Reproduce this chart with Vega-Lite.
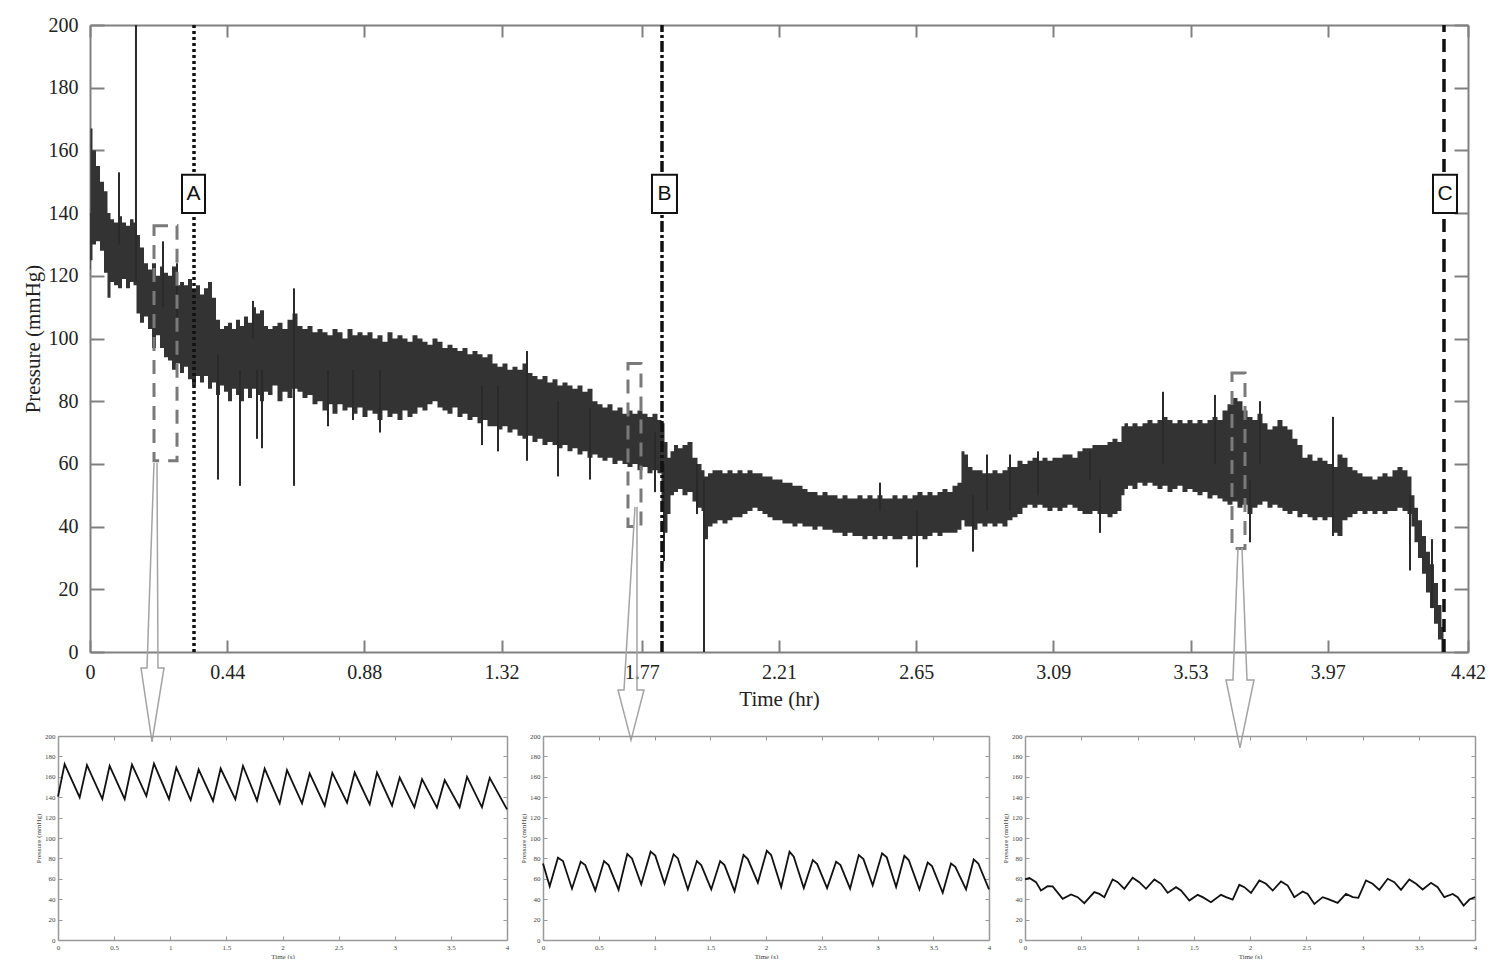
{
"$schema": "https://vega.github.io/schema/vega-lite/v6.json",
"background": "white",
"padding": {"left": 22, "top": 15, "right": 0, "bottom": 0},
"autosize": {"type": "pad"},
"config": {"view": {"stroke": null}, "axis": {"grid": false}},
"align": "none",
"bounds": "full",
"spacing": -19,
"datasets": {
"band": [
{"t":0,"lo":122,"hi":140},{"t":0.0032,"lo":125,"hi":167},{"t":0.0128,"lo":130,"hi":160},{"t":0.0257,"lo":131,"hi":155},{"t":0.0385,"lo":128,"hi":150},{"t":0.0513,"lo":121,"hi":147},{"t":0.0609,"lo":113,"hi":140},{"t":0.0706,"lo":118,"hi":138},{"t":0.0834,"lo":117,"hi":137},{"t":0.0962,"lo":116,"hi":139},{"t":0.1091,"lo":119,"hi":137},{"t":0.1219,"lo":116,"hi":136},{"t":0.1347,"lo":118,"hi":138},{"t":0.1443,"lo":117,"hi":137},{"t":0.154,"lo":108,"hi":133},{"t":0.1668,"lo":105,"hi":129},{"t":0.1796,"lo":107,"hi":124},{"t":0.1925,"lo":103,"hi":122},{"t":0.2053,"lo":97,"hi":124},{"t":0.2181,"lo":101,"hi":120},{"t":0.2309,"lo":97,"hi":123},{"t":0.2438,"lo":94,"hi":121},{"t":0.2566,"lo":93,"hi":120},{"t":0.2694,"lo":90,"hi":123},{"t":0.2823,"lo":92,"hi":117},{"t":0.2951,"lo":89,"hi":118},{"t":0.3079,"lo":91,"hi":117},{"t":0.3208,"lo":87,"hi":119},{"t":0.3336,"lo":85,"hi":116},{"t":0.3464,"lo":88,"hi":117},{"t":0.3592,"lo":86,"hi":114},{"t":0.3721,"lo":88,"hi":116},{"t":0.3849,"lo":84,"hi":118},{"t":0.3977,"lo":86,"hi":113},{"t":0.4106,"lo":82,"hi":106},{"t":0.4234,"lo":85,"hi":103},{"t":0.4362,"lo":83,"hi":104},{"t":0.4491,"lo":80,"hi":105},{"t":0.4619,"lo":84,"hi":103},{"t":0.4747,"lo":82,"hi":106},{"t":0.4875,"lo":80,"hi":104},{"t":0.5004,"lo":84,"hi":107},{"t":0.5132,"lo":81,"hi":105},{"t":0.526,"lo":84,"hi":110},{"t":0.5389,"lo":82,"hi":108},{"t":0.5517,"lo":80,"hi":109},{"t":0.5645,"lo":83,"hi":104},{"t":0.5774,"lo":82,"hi":103},
{"t":0.5934,"lo":85,"hi":104},{"t":0.6094,"lo":80,"hi":105},{"t":0.6255,"lo":83,"hi":103},{"t":0.6415,"lo":81,"hi":106},{"t":0.6575,"lo":84,"hi":108},{"t":0.6736,"lo":83,"hi":104},{"t":0.6896,"lo":81,"hi":103},{"t":0.7057,"lo":82,"hi":104},{"t":0.7217,"lo":79,"hi":102},{"t":0.7377,"lo":80,"hi":103},{"t":0.7538,"lo":77,"hi":102},{"t":0.7698,"lo":79,"hi":101},{"t":0.7858,"lo":76,"hi":103},{"t":0.8019,"lo":79,"hi":102},{"t":0.8179,"lo":77,"hi":100},{"t":0.834,"lo":78,"hi":103},{"t":0.85,"lo":76,"hi":101},{"t":0.866,"lo":78,"hi":102},{"t":0.8821,"lo":75,"hi":101},{"t":0.8981,"lo":77,"hi":102},{"t":0.9141,"lo":76,"hi":100},{"t":0.9302,"lo":74,"hi":101},{"t":0.9462,"lo":77,"hi":99},{"t":0.9623,"lo":75,"hi":102},{"t":0.9783,"lo":76,"hi":100},{"t":0.9943,"lo":74,"hi":101},{"t":1.0104,"lo":77,"hi":100},{"t":1.0264,"lo":75,"hi":99},{"t":1.0424,"lo":76,"hi":101},{"t":1.0585,"lo":78,"hi":100},{"t":1.0745,"lo":77,"hi":99},{"t":1.0906,"lo":79,"hi":98},{"t":1.1066,"lo":80,"hi":100},{"t":1.1226,"lo":78,"hi":99},{"t":1.1387,"lo":77,"hi":97},{"t":1.1547,"lo":76,"hi":98},{"t":1.1707,"lo":78,"hi":97},{"t":1.1868,"lo":75,"hi":96},{"t":1.2028,"lo":76,"hi":97},{"t":1.2189,"lo":74,"hi":95},{"t":1.2349,"lo":75,"hi":96},{"t":1.2509,"lo":73,"hi":95},{"t":1.267,"lo":74,"hi":94},{"t":1.283,"lo":72,"hi":95},{"t":1.299,"lo":72,"hi":92},{"t":1.3151,"lo":71,"hi":91},{"t":1.3311,"lo":72,"hi":92},{"t":1.3472,"lo":70,"hi":90},{"t":1.3632,"lo":71,"hi":91},{"t":1.3792,"lo":69,"hi":90},{"t":1.3953,"lo":68,"hi":92},{"t":1.4113,"lo":69,"hi":89},{"t":1.4273,"lo":67,"hi":88},{"t":1.4434,"lo":68,"hi":87},{"t":1.4594,"lo":66,"hi":88},{"t":1.4755,"lo":67,"hi":86},{"t":1.4915,"lo":66,"hi":87},{"t":1.5075,"lo":65,"hi":85},{"t":1.5236,"lo":66,"hi":86},{"t":1.5396,"lo":64,"hi":85},{"t":1.5556,"lo":65,"hi":84},{"t":1.5717,"lo":63,"hi":85},{"t":1.5877,"lo":64,"hi":83},{"t":1.6038,"lo":62,"hi":84},{"t":1.6198,"lo":63,"hi":80},{"t":1.6358,"lo":62,"hi":79},{"t":1.6519,"lo":61,"hi":78},{"t":1.6679,"lo":62,"hi":79},{"t":1.6839,"lo":60,"hi":77},{"t":1.7,"lo":61,"hi":78},{"t":1.716,"lo":60,"hi":76},{"t":1.7321,"lo":59,"hi":77},{"t":1.7481,"lo":60,"hi":76},{"t":1.7641,"lo":58,"hi":77},{"t":1.7802,"lo":59,"hi":76},{"t":1.7962,"lo":57,"hi":75},{"t":1.8122,"lo":58,"hi":76},{"t":1.8283,"lo":57,"hi":74},
{"t":1.8379,"lo":45,"hi":73},{"t":1.8475,"lo":38,"hi":67},{"t":1.8572,"lo":44,"hi":62},{"t":1.8668,"lo":50,"hi":64},{"t":1.8796,"lo":51,"hi":66},{"t":1.8924,"lo":52,"hi":65},{"t":1.9085,"lo":50,"hi":66},{"t":1.9245,"lo":51,"hi":67},{"t":1.9405,"lo":48,"hi":62},{"t":1.9566,"lo":46,"hi":60},{"t":1.9662,"lo":45,"hi":58},{"t":1.9758,"lo":36,"hi":56},{"t":1.9887,"lo":40,"hi":57},{"t":2.0047,"lo":41,"hi":58},{"t":2.0207,"lo":42,"hi":58},{"t":2.0368,"lo":41,"hi":57},{"t":2.0528,"lo":42,"hi":58},{"t":2.0688,"lo":43,"hi":57},{"t":2.0849,"lo":43,"hi":58},{"t":2.1009,"lo":44,"hi":57},{"t":2.117,"lo":45,"hi":58},{"t":2.133,"lo":46,"hi":57},{"t":2.149,"lo":45,"hi":57},{"t":2.1651,"lo":44,"hi":56},{"t":2.1811,"lo":43,"hi":56},{"t":2.1971,"lo":42,"hi":55},{"t":2.2132,"lo":42,"hi":55},{"t":2.2292,"lo":41,"hi":54},{"t":2.2453,"lo":41,"hi":54},{"t":2.2613,"lo":40,"hi":53},{"t":2.2773,"lo":41,"hi":53},{"t":2.2934,"lo":40,"hi":52},{"t":2.3094,"lo":40,"hi":51},{"t":2.3254,"lo":39,"hi":51},{"t":2.3415,"lo":40,"hi":50},{"t":2.3575,"lo":39,"hi":51},{"t":2.3736,"lo":39,"hi":50},{"t":2.3896,"lo":38,"hi":50},{"t":2.4056,"lo":38,"hi":49},{"t":2.4217,"lo":37,"hi":50},{"t":2.4377,"lo":38,"hi":49},{"t":2.4537,"lo":37,"hi":49},{"t":2.4698,"lo":37,"hi":50},{"t":2.4858,"lo":36,"hi":49},{"t":2.5019,"lo":37,"hi":50},{"t":2.5179,"lo":36,"hi":49},{"t":2.5339,"lo":37,"hi":50},{"t":2.55,"lo":36,"hi":49},{"t":2.566,"lo":37,"hi":49},{"t":2.582,"lo":36,"hi":50},{"t":2.5981,"lo":36,"hi":49},{"t":2.6141,"lo":37,"hi":50},{"t":2.6302,"lo":36,"hi":49},{"t":2.6462,"lo":37,"hi":50},{"t":2.6622,"lo":37,"hi":51},{"t":2.6783,"lo":36,"hi":50},{"t":2.6943,"lo":37,"hi":51},{"t":2.7103,"lo":38,"hi":50},{"t":2.7264,"lo":37,"hi":51},{"t":2.7424,"lo":38,"hi":52},{"t":2.7585,"lo":38,"hi":51},{"t":2.7745,"lo":38,"hi":53},{"t":2.7905,"lo":39,"hi":54},
{"t":2.8001,"lo":42,"hi":64},{"t":2.8098,"lo":40,"hi":63},{"t":2.8226,"lo":40,"hi":59},{"t":2.8386,"lo":39,"hi":58},{"t":2.8547,"lo":41,"hi":58},{"t":2.8707,"lo":40,"hi":57},{"t":2.8868,"lo":41,"hi":57},{"t":2.9028,"lo":40,"hi":58},{"t":2.9188,"lo":41,"hi":57},{"t":2.9349,"lo":40,"hi":58},{"t":2.9509,"lo":42,"hi":59},{"t":2.9669,"lo":43,"hi":59},{"t":2.983,"lo":44,"hi":61},{"t":2.999,"lo":46,"hi":60},{"t":3.0151,"lo":47,"hi":61},{"t":3.0311,"lo":46,"hi":62},{"t":3.0471,"lo":47,"hi":61},{"t":3.0632,"lo":46,"hi":62},{"t":3.0792,"lo":45,"hi":61},{"t":3.0952,"lo":46,"hi":62},{"t":3.1113,"lo":45,"hi":62},{"t":3.1273,"lo":46,"hi":63},{"t":3.1434,"lo":47,"hi":63},{"t":3.1594,"lo":46,"hi":62},{"t":3.1754,"lo":45,"hi":64},{"t":3.1915,"lo":44,"hi":65},{"t":3.2075,"lo":44,"hi":65},{"t":3.2235,"lo":45,"hi":66},{"t":3.2396,"lo":44,"hi":66},{"t":3.2556,"lo":44,"hi":66},{"t":3.2717,"lo":43,"hi":67},{"t":3.2877,"lo":44,"hi":68},{"t":3.3037,"lo":45,"hi":67},
{"t":3.3133,"lo":50,"hi":72},{"t":3.323,"lo":52,"hi":73},{"t":3.3358,"lo":53,"hi":72},{"t":3.3518,"lo":52,"hi":73},{"t":3.3679,"lo":54,"hi":72},{"t":3.3839,"lo":53,"hi":73},{"t":3.3999,"lo":54,"hi":74},{"t":3.416,"lo":53,"hi":73},{"t":3.432,"lo":52,"hi":74},{"t":3.4481,"lo":53,"hi":75},{"t":3.4641,"lo":51,"hi":74},{"t":3.4801,"lo":52,"hi":73},{"t":3.4962,"lo":53,"hi":74},{"t":3.5122,"lo":51,"hi":73},{"t":3.5283,"lo":52,"hi":74},{"t":3.5443,"lo":51,"hi":73},{"t":3.5603,"lo":50,"hi":74},{"t":3.5764,"lo":51,"hi":73},{"t":3.5924,"lo":49,"hi":74},{"t":3.6084,"lo":50,"hi":75},{"t":3.6245,"lo":49,"hi":74},{"t":3.6405,"lo":48,"hi":77},{"t":3.6566,"lo":47,"hi":79},{"t":3.6726,"lo":48,"hi":81},{"t":3.6886,"lo":46,"hi":80},{"t":3.7047,"lo":47,"hi":77},{"t":3.7207,"lo":44,"hi":75},{"t":3.7367,"lo":46,"hi":74},{"t":3.7528,"lo":47,"hi":76},{"t":3.7688,"lo":48,"hi":73},{"t":3.7849,"lo":46,"hi":71},{"t":3.8009,"lo":47,"hi":72},{"t":3.8169,"lo":46,"hi":74},{"t":3.833,"lo":45,"hi":72},{"t":3.849,"lo":44,"hi":71},{"t":3.865,"lo":45,"hi":68},{"t":3.8811,"lo":43,"hi":66},{"t":3.8971,"lo":44,"hi":62},{"t":3.9132,"lo":43,"hi":63},{"t":3.9292,"lo":42,"hi":61},{"t":3.9452,"lo":43,"hi":62},{"t":3.9613,"lo":42,"hi":61},{"t":3.9773,"lo":43,"hi":60},{"t":3.9933,"lo":38,"hi":59},{"t":4.0094,"lo":37,"hi":63},{"t":4.0254,"lo":42,"hi":62},{"t":4.0415,"lo":43,"hi":59},{"t":4.0575,"lo":44,"hi":58},{"t":4.0735,"lo":45,"hi":57},{"t":4.0896,"lo":44,"hi":56},{"t":4.1056,"lo":45,"hi":56},{"t":4.1216,"lo":44,"hi":55},{"t":4.1377,"lo":45,"hi":56},{"t":4.1537,"lo":44,"hi":57},{"t":4.1698,"lo":45,"hi":56},{"t":4.1858,"lo":45,"hi":58},{"t":4.2018,"lo":46,"hi":59},{"t":4.2179,"lo":45,"hi":58},{"t":4.2339,"lo":44,"hi":56},{"t":4.2435,"lo":40,"hi":50},{"t":4.2531,"lo":35,"hi":46},{"t":4.266,"lo":30,"hi":42},{"t":4.2788,"lo":25,"hi":37},{"t":4.2916,"lo":19,"hi":32},{"t":4.3045,"lo":14,"hi":28},{"t":4.3173,"lo":9,"hi":22},{"t":4.3301,"lo":4,"hi":15},{"t":4.3397,"lo":0,"hi":8},{"t":4.343,"lo":0,"hi":3}
],
"spikes": [
{"t":0.093,"v1":130,"v2":153},{"t":0.1475,"v1":118,"v2":200},{"t":0.2341,"v1":110,"v2":131},{"t":0.2791,"v1":105,"v2":124},{"t":0.4106,"v1":55,"v2":95},{"t":0.4811,"v1":53,"v2":90},{"t":0.5228,"v1":100,"v2":112},{"t":0.5357,"v1":68,"v2":90},{"t":0.5517,"v1":65,"v2":90},{"t":0.6543,"v1":53,"v2":116},{"t":0.7634,"v1":72,"v2":90},{"t":0.8436,"v1":74,"v2":90},{"t":0.9302,"v1":70,"v2":90},{"t":1.2573,"v1":66,"v2":85},{"t":1.3087,"v1":64,"v2":85},{"t":1.4017,"v1":61,"v2":96},{"t":1.5011,"v1":56,"v2":80},{"t":1.6038,"v1":55,"v2":78},{"t":1.8122,"v1":51,"v2":70},{"t":1.8411,"v1":29,"v2":60},{"t":1.947,"v1":44,"v2":60},{"t":1.9694,"v1":0,"v2":55},{"t":2.5339,"v1":45,"v2":54},{"t":2.6526,"v1":27,"v2":45},{"t":2.8322,"v1":32,"v2":50},{"t":2.8771,"v1":45,"v2":63},{"t":2.9509,"v1":45,"v2":63},{"t":3.0407,"v1":50,"v2":64},{"t":3.2075,"v1":55,"v2":64},{"t":3.2396,"v1":38,"v2":55},{"t":3.4417,"v1":60,"v2":83},{"t":3.6084,"v1":60,"v2":82},{"t":3.7207,"v1":35,"v2":55},{"t":3.7528,"v1":60,"v2":80},{"t":3.9869,"v1":37,"v2":75},{"t":4.2339,"v1":26,"v2":50},{"t":4.3045,"v1":14,"v2":36}
],
"events": [
{"label":"A","t":0.3336,"y0":0,"y1":200},{"label":"B","t":1.8347,"y0":0,"y1":200},{"label":"C","t":4.343,"y0":0,"y1":200}
],
"labelboxes": [
{"label":"A","t1":0.2951,"t2":0.3689,"v1":140,"v2":152.2,"tm":0.332,"vm":146.1},
{"label":"B","t1":1.8026,"t2":1.8828,"v1":140,"v2":152.2,"tm":1.8427,"vm":146.1},
{"label":"C","t1":4.3077,"t2":4.3847,"v1":140,"v2":152.2,"tm":4.3462,"vm":146.1}
],
"zoomboxes": [
{"t1":0.2053,"t2":0.2791,"v1":61,"v2":136},{"t1":1.7256,"t2":1.7673,"v1":40,"v2":92},{"t1":3.663,"t2":3.7047,"v1":33,"v2":89}
],
"arrows": [
{"id":1,"k":0,"t":0.2053,"v":60.3},{"id":1,"k":1,"t":0.1828,"v":-5.1},{"id":1,"k":2,"t":0.1636,"v":-5.1},{"id":1,"k":3,"t":0.1989,"v":-28.7},{"id":1,"k":4,"t":0.2374,"v":-5.1},{"id":1,"k":5,"t":0.2181,"v":-5.1},{"id":1,"k":6,"t":0.2149,"v":60.3},
{"id":2,"k":0,"t":1.7481,"v":46.3},{"id":2,"k":1,"t":1.7128,"v":-12.1},{"id":2,"k":2,"t":1.6936,"v":-12.1},{"id":2,"k":3,"t":1.7353,"v":-28.1},{"id":2,"k":4,"t":1.777,"v":-12.1},{"id":2,"k":5,"t":1.7545,"v":-12.1},{"id":2,"k":6,"t":1.7545,"v":46.3},
{"id":3,"k":0,"t":3.6822,"v":33.2},{"id":3,"k":1,"t":3.6662,"v":-8.9},{"id":3,"k":2,"t":3.6437,"v":-8.9},{"id":3,"k":3,"t":3.6886,"v":-30.6},{"id":3,"k":4,"t":3.7335,"v":-8.9},{"id":3,"k":5,"t":3.7111,"v":-8.9},{"id":3,"k":6,"t":3.695,"v":33.2}
],
"p1": [
{"t":0,"v":140.5},{"t":0.059,"v":172.4},{"t":0.193,"v":139.8},{"t":0.258,"v":171.4},{"t":0.395,"v":138.2},{"t":0.46,"v":170.7},{"t":0.594,"v":138.2},{"t":0.659,"v":172.0},{"t":0.787,"v":141.1},{"t":0.855,"v":173.0},{"t":0.989,"v":138.2},{"t":1.054,"v":169.1},{"t":1.182,"v":137.2},{"t":1.253,"v":167.2},{"t":1.381,"v":136.3},{"t":1.449,"v":168.1},{"t":1.58,"v":137.9},{"t":1.648,"v":170.7},{"t":1.773,"v":136.6},{"t":1.841,"v":168.1},{"t":1.975,"v":134.0},{"t":2.04,"v":166.5},{"t":2.174,"v":134.0},{"t":2.242,"v":163.3},{"t":2.376,"v":131.7},{"t":2.444,"v":163.9},{"t":2.575,"v":134.6},{"t":2.643,"v":164.2},{"t":2.777,"v":133.0},{"t":2.842,"v":164.2},{"t":2.976,"v":131.7},{"t":3.044,"v":159.3},{"t":3.175,"v":130.1},{"t":3.243,"v":157.7},{"t":3.376,"v":129.8},{"t":3.445,"v":156.7},{"t":3.578,"v":130.1},{"t":3.644,"v":160.0},{"t":3.777,"v":130.1},{"t":3.846,"v":159.0},{"t":4.0,"v":128.1}
],
"p2": [
{"t":0,"v":75.0},{"t":0.06,"v":52.6},{"t":0.134,"v":80.7},{"t":0.179,"v":77.4},{"t":0.26,"v":50.3},{"t":0.338,"v":76.7},{"t":0.379,"v":73.4},{"t":0.469,"v":48.6},{"t":0.547,"v":77.4},{"t":0.588,"v":73.4},{"t":0.678,"v":49.3},{"t":0.756,"v":84.3},{"t":0.798,"v":80.0},{"t":0.881,"v":54.5},{"t":0.965,"v":86.6},{"t":1.007,"v":82.7},{"t":1.09,"v":55.2},{"t":1.171,"v":84.0},{"t":1.21,"v":80.0},{"t":1.299,"v":49.6},{"t":1.38,"v":77.4},{"t":1.419,"v":73.4},{"t":1.509,"v":49.6},{"t":1.589,"v":77.4},{"t":1.628,"v":73.4},{"t":1.718,"v":47.9},{"t":1.798,"v":83.3},{"t":1.837,"v":79.3},{"t":1.927,"v":56.2},{"t":2.007,"v":87.6},{"t":2.046,"v":83.3},{"t":2.136,"v":51.9},{"t":2.211,"v":86.6},{"t":2.249,"v":81.7},{"t":2.339,"v":50.9},{"t":2.42,"v":78.4},{"t":2.459,"v":74.4},{"t":2.548,"v":50.9},{"t":2.629,"v":76.7},{"t":2.668,"v":73.4},{"t":2.754,"v":50.3},{"t":2.832,"v":83.3},{"t":2.874,"v":79.3},{"t":2.957,"v":53.6},{"t":3.041,"v":85.0},{"t":3.083,"v":81.0},{"t":3.167,"v":51.9},{"t":3.241,"v":82.6},{"t":3.28,"v":78.4},{"t":3.376,"v":49.6},{"t":3.45,"v":76.0},{"t":3.489,"v":72.4},{"t":3.585,"v":46.3},{"t":3.659,"v":75.0},{"t":3.698,"v":71.7},{"t":3.794,"v":49.6},{"t":3.863,"v":79.0},{"t":3.904,"v":75.0},{"t":4.0,"v":49.6}
],
"p3": [
{"t":0,"v":59.4},{"t":0.039,"v":60.7},{"t":0.098,"v":56.7},{"t":0.142,"v":48.5},{"t":0.201,"v":52.8},{"t":0.246,"v":52.5},{"t":0.335,"v":40.3},{"t":0.409,"v":44.6},{"t":0.468,"v":42.0},{"t":0.527,"v":36.1},{"t":0.616,"v":46.9},{"t":0.661,"v":45.2},{"t":0.705,"v":42.0},{"t":0.779,"v":59.4},{"t":0.824,"v":56.7},{"t":0.883,"v":50.2},{"t":0.957,"v":61.0},{"t":1.016,"v":56.7},{"t":1.076,"v":50.2},{"t":1.15,"v":59.4},{"t":1.209,"v":55.1},{"t":1.268,"v":46.2},{"t":1.342,"v":51.8},{"t":1.387,"v":48.5},{"t":1.461,"v":38.7},{"t":1.535,"v":44.3},{"t":1.579,"v":42.0},{"t":1.653,"v":37.1},{"t":1.742,"v":44.3},{"t":1.787,"v":42.0},{"t":1.846,"v":39.7},{"t":1.905,"v":54.1},{"t":1.95,"v":51.8},{"t":2.009,"v":46.2},{"t":2.083,"v":58.4},{"t":2.142,"v":55.1},{"t":2.202,"v":48.5},{"t":2.276,"v":57.4},{"t":2.335,"v":53.4},{"t":2.394,"v":42.0},{"t":2.468,"v":47.5},{"t":2.513,"v":45.2},{"t":2.572,"v":35.4},{"t":2.646,"v":42.0},{"t":2.69,"v":40.3},{"t":2.779,"v":36.4},{"t":2.853,"v":45.2},{"t":2.913,"v":42.0},{"t":2.963,"v":41.3},{"t":3.031,"v":58.4},{"t":3.09,"v":55.1},{"t":3.15,"v":49.2},{"t":3.224,"v":60.0},{"t":3.283,"v":56.7},{"t":3.342,"v":49.2},{"t":3.416,"v":59.4},{"t":3.476,"v":55.1},{"t":3.535,"v":49.5},{"t":3.609,"v":56.1},{"t":3.668,"v":51.8},{"t":3.727,"v":42.0},{"t":3.802,"v":45.2},{"t":3.846,"v":42.0},{"t":3.899,"v":33.8},{"t":3.95,"v":39.7},{"t":4.0,"v":42.0}
]
},
"vconcat": [
{
"width": 1410, "height": 627,
"layer": [
{"data": {"name": "band"},
 "mark": {"type": "area", "interpolate": "step", "color": "#333333"},
 "encoding": {
  "x": {"field": "t", "type": "quantitative", "scale": {"domain": [0, 4.42], "range": [32, 1410], "nice": false, "zero": false},
   "axis": {"orient": "bottom", "values": [0, 0.44, 0.88, 1.32, 1.77, 2.21, 2.65, 3.09, 3.53, 3.97, 4.42],
    "labelExpr": "datum.value == 0 ? '0' : format(datum.value, '.2f')",
    "title": "Time (hr)", "titleFont": "Liberation Serif", "titleFontSize": 21, "titleFontWeight": "normal", "titleColor": "#222", "titlePadding": 6,
    "labelFont": "Liberation Serif", "labelFontSize": 20, "labelColor": "#222", "labelPadding": 22, "labelFlush": false, "labelOverlap": false, "labelBound": false,
    "tickSize": -12, "tickWidth": 2, "tickColor": "#808080", "domainColor": "#808080", "domainWidth": 2, "grid": false}},
  "y": {"field": "lo", "type": "quantitative", "scale": {"domain": [0, 200], "nice": false},
   "axis": {"orient": "left", "offset": -32, "values": [0, 20, 40, 60, 80, 100, 120, 140, 160, 180, 200],
    "title": "Pressure (mmHg)", "titleFont": "Liberation Serif", "titleFontSize": 21, "titleFontWeight": "normal", "titleColor": "#222", "titlePadding": 5,
    "labelFont": "Liberation Serif", "labelFontSize": 20, "labelColor": "#222", "labelPadding": 26, "labelOverlap": false,
    "tickSize": -14, "tickWidth": 2, "tickColor": "#808080", "domainColor": "#808080", "domainWidth": 2, "grid": false}},
  "y2": {"field": "hi"}
 }},
{"data": {"name": "spikes"},
 "mark": {"type": "rule", "color": "#2a2a2a", "strokeWidth": 2},
 "encoding": {
  "x": {"field": "t", "type": "quantitative", "scale": {"domain": [0, 4.42], "range": [32, 1410], "nice": false, "zero": false},
   "axis": {"orient": "top", "values": [0, 0.44, 0.88, 1.32, 1.77, 2.21, 2.65, 3.09, 3.53, 3.97, 4.42], "labels": false, "title": null,
    "tickSize": -12, "tickWidth": 2, "tickColor": "#808080", "domainColor": "#808080", "domainWidth": 2, "grid": false}},
  "y": {"field": "v1", "type": "quantitative", "scale": {"domain": [0, 200], "nice": false},
   "axis": {"orient": "right", "values": [0, 20, 40, 60, 80, 100, 120, 140, 160, 180, 200], "labels": false, "title": null,
    "tickSize": -14, "tickWidth": 2, "tickColor": "#808080", "domainColor": "#808080", "domainWidth": 2, "grid": false}},
  "y2": {"field": "v2"}
 }},
{"data": {"name": "zoomboxes"},
 "mark": {"type": "rect", "fillOpacity": 0, "stroke": "#7a7a7a", "strokeWidth": 3, "strokeDash": [14, 9]},
 "encoding": {
  "x": {"field": "t1", "type": "quantitative", "scale": {"domain": [0, 4.42], "range": [32, 1410], "nice": false, "zero": false}, "axis": null},
  "x2": {"field": "t2"},
  "y": {"field": "v1", "type": "quantitative", "scale": {"domain": [0, 200], "nice": false}, "axis": null},
  "y2": {"field": "v2"}
 }},
{"data": {"name": "events"},
 "mark": {"type": "rule", "color": "#111111", "strokeWidth": 3.5},
 "encoding": {
  "x": {"field": "t", "type": "quantitative", "scale": {"domain": [0, 4.42], "range": [32, 1410], "nice": false, "zero": false}, "axis": null},
  "y": {"field": "y0", "type": "quantitative", "scale": {"domain": [0, 200], "nice": false}, "axis": null},
  "y2": {"field": "y1"},
  "strokeDash": {"field": "label", "type": "nominal", "scale": {"domain": ["A", "B", "C"], "range": [[3, 3], [11, 3, 3, 3], [13, 7]]}, "legend": null}
 }},
{"data": {"name": "labelboxes"},
 "mark": {"type": "rect", "fill": "white", "stroke": "#111111", "strokeWidth": 2},
 "encoding": {
  "x": {"field": "t1", "type": "quantitative", "scale": {"domain": [0, 4.42], "range": [32, 1410], "nice": false, "zero": false}, "axis": null},
  "x2": {"field": "t2"},
  "y": {"field": "v1", "type": "quantitative", "scale": {"domain": [0, 200], "nice": false}, "axis": null},
  "y2": {"field": "v2"}
 }},
{"data": {"name": "labelboxes"},
 "mark": {"type": "text", "font": "Liberation Sans", "fontSize": 21, "color": "#111111", "baseline": "middle", "align": "center"},
 "encoding": {
  "x": {"field": "tm", "type": "quantitative", "scale": {"domain": [0, 4.42], "range": [32, 1410], "nice": false, "zero": false}, "axis": null},
  "y": {"field": "vm", "type": "quantitative", "scale": {"domain": [0, 200], "nice": false}, "axis": null},
  "text": {"field": "label"}
 }},
{"data": {"name": "arrows"},
 "mark": {"type": "line", "color": "#a3a3a3", "strokeWidth": 1.5},
 "encoding": {
  "x": {"field": "t", "type": "quantitative", "scale": {"domain": [0, 4.42], "range": [32, 1410], "nice": false, "zero": false}, "axis": null},
  "y": {"field": "v", "type": "quantitative", "scale": {"domain": [0, 200], "nice": false}, "axis": null},
  "detail": {"field": "id"},
  "order": {"field": "k", "type": "quantitative"}
 }}
],
"resolve": {"axis": {"x": "independent", "y": "independent"}}
},
{
"hconcat": [
{"width": 449, "height": 204, "data": {"name": "p1"},
 "layer": [
  {"mark": {"type": "line", "color": "#111111", "strokeWidth": 1.8},
   "encoding": {
    "x": {"field": "t", "type": "quantitative", "scale": {"domain": [0, 4], "nice": false},
     "axis": {"orient": "bottom", "values": [0, 0.5, 1, 1.5, 2, 2.5, 3, 3.5, 4], "format": "~g", "title": "Time (s)", "titleFont": "Liberation Serif", "titleFontSize": 7, "titleFontWeight": "normal", "titleColor": "#444", "titlePadding": 2,
      "labelFont": "Liberation Serif", "labelFontSize": 7, "labelColor": "#444", "labelPadding": 7, "labelFlush": false, "labelOverlap": false, "tickSize": -4, "tickColor": "#999", "domainColor": "#999", "domainWidth": 1.5, "grid": false}},
    "y": {"field": "v", "type": "quantitative", "scale": {"domain": [0, 200], "nice": false},
     "axis": {"orient": "left", "values": [0, 20, 40, 60, 80, 100, 120, 140, 160, 180, 200], "title": "Pressure (mmHg)", "titleFont": "Liberation Serif", "titleFontSize": 7, "titleFontWeight": "normal", "titleColor": "#444", "titlePadding": 3,
      "labelFont": "Liberation Serif", "labelFontSize": 7, "labelColor": "#444", "labelPadding": 7, "labelOverlap": false, "tickSize": -4, "tickColor": "#999", "domainColor": "#999", "domainWidth": 1.5, "grid": false}}
   }},
  {"mark": {"type": "line", "opacity": 0},
   "encoding": {
    "x": {"field": "t", "type": "quantitative", "scale": {"domain": [0, 4], "nice": false},
     "axis": {"orient": "top", "values": [0, 0.5, 1, 1.5, 2, 2.5, 3, 3.5, 4], "labels": false, "title": null, "tickSize": -4, "tickColor": "#999", "domainColor": "#999", "domainWidth": 1.5, "grid": false}},
    "y": {"field": "v", "type": "quantitative", "scale": {"domain": [0, 200], "nice": false},
     "axis": {"orient": "right", "values": [0, 20, 40, 60, 80, 100, 120, 140, 160, 180, 200], "labels": false, "title": null, "tickSize": -4, "tickColor": "#999", "domainColor": "#999", "domainWidth": 1.5, "grid": false}}
   }}
 ],
 "resolve": {"axis": {"x": "independent", "y": "independent"}}
},
{"width": 446, "height": 204, "data": {"name": "p2"},
 "layer": [
  {"mark": {"type": "line", "color": "#111111", "strokeWidth": 1.8},
   "encoding": {
    "x": {"field": "t", "type": "quantitative", "scale": {"domain": [0, 4], "nice": false},
     "axis": {"orient": "bottom", "values": [0, 0.5, 1, 1.5, 2, 2.5, 3, 3.5, 4], "format": "~g", "title": "Time (s)", "titleFont": "Liberation Serif", "titleFontSize": 7, "titleFontWeight": "normal", "titleColor": "#444", "titlePadding": 2,
      "labelFont": "Liberation Serif", "labelFontSize": 7, "labelColor": "#444", "labelPadding": 7, "labelFlush": false, "labelOverlap": false, "tickSize": -4, "tickColor": "#999", "domainColor": "#999", "domainWidth": 1.5, "grid": false}},
    "y": {"field": "v", "type": "quantitative", "scale": {"domain": [0, 200], "nice": false},
     "axis": {"orient": "left", "values": [0, 20, 40, 60, 80, 100, 120, 140, 160, 180, 200], "title": "Pressure (mmHg)", "titleFont": "Liberation Serif", "titleFontSize": 7, "titleFontWeight": "normal", "titleColor": "#444", "titlePadding": 3,
      "labelFont": "Liberation Serif", "labelFontSize": 7, "labelColor": "#444", "labelPadding": 7, "labelOverlap": false, "tickSize": -4, "tickColor": "#999", "domainColor": "#999", "domainWidth": 1.5, "grid": false}}
   }},
  {"mark": {"type": "line", "opacity": 0},
   "encoding": {
    "x": {"field": "t", "type": "quantitative", "scale": {"domain": [0, 4], "nice": false},
     "axis": {"orient": "top", "values": [0, 0.5, 1, 1.5, 2, 2.5, 3, 3.5, 4], "labels": false, "title": null, "tickSize": -4, "tickColor": "#999", "domainColor": "#999", "domainWidth": 1.5, "grid": false}},
    "y": {"field": "v", "type": "quantitative", "scale": {"domain": [0, 200], "nice": false},
     "axis": {"orient": "right", "values": [0, 20, 40, 60, 80, 100, 120, 140, 160, 180, 200], "labels": false, "title": null, "tickSize": -4, "tickColor": "#999", "domainColor": "#999", "domainWidth": 1.5, "grid": false}}
   }}
 ],
 "resolve": {"axis": {"x": "independent", "y": "independent"}}
},
{"width": 450, "height": 204, "data": {"name": "p3"},
 "layer": [
  {"mark": {"type": "line", "color": "#111111", "strokeWidth": 1.8},
   "encoding": {
    "x": {"field": "t", "type": "quantitative", "scale": {"domain": [0, 4], "nice": false},
     "axis": {"orient": "bottom", "values": [0, 0.5, 1, 1.5, 2, 2.5, 3, 3.5, 4], "format": "~g", "title": "Time (s)", "titleFont": "Liberation Serif", "titleFontSize": 7, "titleFontWeight": "normal", "titleColor": "#444", "titlePadding": 2,
      "labelFont": "Liberation Serif", "labelFontSize": 7, "labelColor": "#444", "labelPadding": 7, "labelFlush": false, "labelOverlap": false, "tickSize": -4, "tickColor": "#999", "domainColor": "#999", "domainWidth": 1.5, "grid": false}},
    "y": {"field": "v", "type": "quantitative", "scale": {"domain": [0, 200], "nice": false},
     "axis": {"orient": "left", "values": [0, 20, 40, 60, 80, 100, 120, 140, 160, 180, 200], "title": "Pressure (mmHg)", "titleFont": "Liberation Serif", "titleFontSize": 7, "titleFontWeight": "normal", "titleColor": "#444", "titlePadding": 3,
      "labelFont": "Liberation Serif", "labelFontSize": 7, "labelColor": "#444", "labelPadding": 7, "labelOverlap": false, "tickSize": -4, "tickColor": "#999", "domainColor": "#999", "domainWidth": 1.5, "grid": false}}
   }},
  {"mark": {"type": "line", "opacity": 0},
   "encoding": {
    "x": {"field": "t", "type": "quantitative", "scale": {"domain": [0, 4], "nice": false},
     "axis": {"orient": "top", "values": [0, 0.5, 1, 1.5, 2, 2.5, 3, 3.5, 4], "labels": false, "title": null, "tickSize": -4, "tickColor": "#999", "domainColor": "#999", "domainWidth": 1.5, "grid": false}},
    "y": {"field": "v", "type": "quantitative", "scale": {"domain": [0, 200], "nice": false},
     "axis": {"orient": "right", "values": [0, 20, 40, 60, 80, 100, 120, 140, 160, 180, 200], "labels": false, "title": null, "tickSize": -4, "tickColor": "#999", "domainColor": "#999", "domainWidth": 1.5, "grid": false}}
   }}
 ],
 "resolve": {"axis": {"x": "independent", "y": "independent"}}
}
],
"spacing": 8
}
]
}
